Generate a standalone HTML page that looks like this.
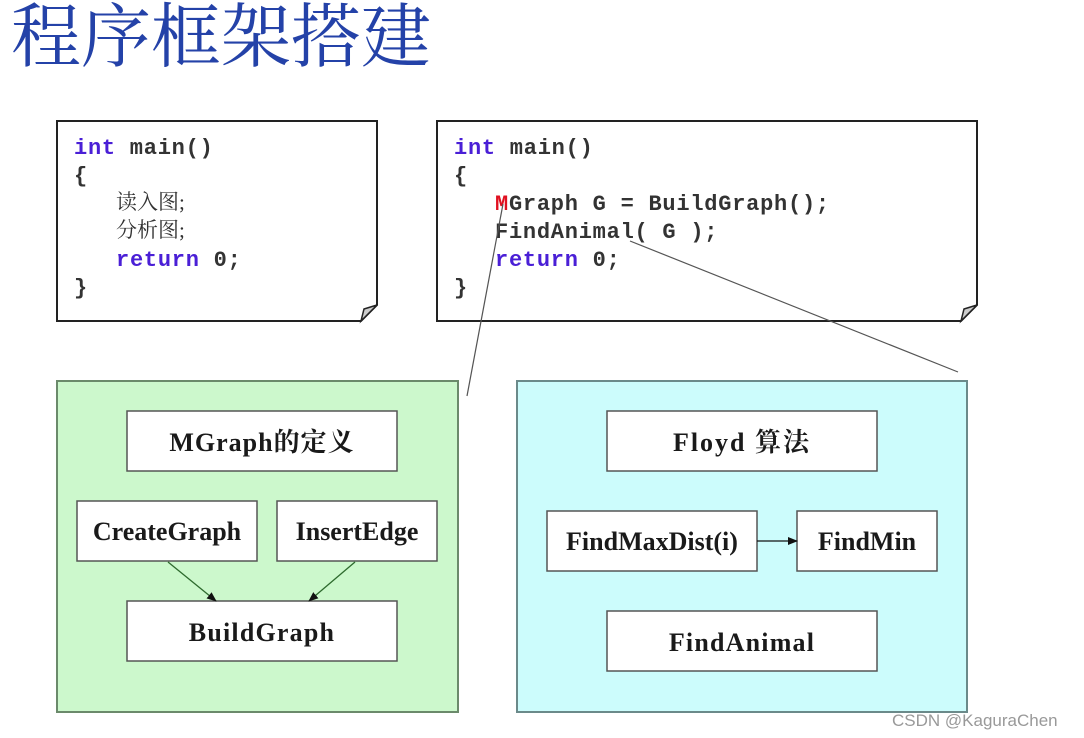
<!DOCTYPE html>
<html><head><meta charset="utf-8"><style>
html,body{margin:0;padding:0;background:#fff;}
svg{display:block;}
.code{font-family:"Liberation Mono",monospace;font-weight:bold;font-size:22px;fill:#333;letter-spacing:0.75px;}
.kw{fill:#4a1fd6;}
.cn{font-family:"Liberation Serif","Noto Serif CJK SC",serif;font-weight:normal;font-size:21px;fill:#333;}
.lbl{font-family:"Liberation Serif","Noto Serif CJK SC",serif;font-weight:bold;font-size:26px;fill:#1a1a1a;}
</style></head><body>
<svg width="1084" height="738" viewBox="0 0 1084 738" xmlns="http://www.w3.org/2000/svg">
<defs>
<marker id="ag" markerWidth="10" markerHeight="10" refX="9" refY="5" orient="auto" markerUnits="userSpaceOnUse"><path d="M0,1 L10,5 L0,9 z" fill="#111"/></marker>
</defs>
<text x="11" y="61" font-family="'Noto Serif CJK SC',serif" font-size="70" fill="#2442a8">程序框架搭建</text>

<!-- left code box -->
<path d="M57,121 H377 V305 L361,321 H57 Z" fill="#fff" stroke="#222" stroke-width="2"/>
<path d="M377,305 L361,321 L364,309 Z" fill="#ccc" stroke="#222" stroke-width="1.5"/>
<text class="code" x="74" y="154"><tspan class="kw">int</tspan> main()</text>
<text class="code" x="74" y="182">{</text>
<text class="cn" x="116" y="209">读入图;</text>
<text class="cn" x="116" y="237">分析图;</text>
<text class="code" x="116" y="266"><tspan class="kw">return</tspan> 0;</text>
<text class="code" x="74" y="294">}</text>

<!-- right code box -->
<path d="M437,121 H977 V305 L961,321 H437 Z" fill="#fff" stroke="#222" stroke-width="2"/>
<path d="M977,305 L961,321 L964,309 Z" fill="#ccc" stroke="#222" stroke-width="1.5"/>
<text class="code" x="454" y="154"><tspan class="kw">int</tspan> main()</text>
<text class="code" x="454" y="182">{</text>
<text class="code" x="495" y="210"><tspan fill="#e01020">M</tspan>Graph G = BuildGraph();</text>
<text class="code" x="495" y="238">FindAnimal( G );</text>
<text class="code" x="495" y="266"><tspan class="kw">return</tspan> 0;</text>
<text class="code" x="454" y="294">}</text>

<!-- callout lines -->
<line x1="503" y1="204" x2="467" y2="396" stroke="#555" stroke-width="1.2"/>
<line x1="630" y1="241" x2="958" y2="372" stroke="#555" stroke-width="1.2"/>

<!-- green panel -->
<rect x="57" y="381" width="401" height="331" fill="#ccf8cc" stroke="#6b8a6b" stroke-width="2"/>
<rect x="127" y="411" width="270" height="60" fill="#fff" stroke="#555" stroke-width="1.5"/>
<text class="lbl" x="262" y="451" text-anchor="middle" font-size="27" letter-spacing="1">MGraph的定义</text>
<rect x="77" y="501" width="180" height="60" fill="#fff" stroke="#555" stroke-width="1.5"/>
<text class="lbl" x="167" y="540" text-anchor="middle" font-size="23.5">CreateGraph</text>
<rect x="277" y="501" width="160" height="60" fill="#fff" stroke="#555" stroke-width="1.5"/>
<text class="lbl" x="357" y="540" text-anchor="middle" font-size="23.5">InsertEdge</text>
<rect x="127" y="601" width="270" height="60" fill="#fff" stroke="#555" stroke-width="1.5"/>
<text class="lbl" x="262" y="641" text-anchor="middle" font-size="27" letter-spacing="1.2">BuildGraph</text>
<line x1="168" y1="562" x2="216" y2="601" stroke="#2d6a2d" stroke-width="1.3" marker-end="url(#ag)"/>
<line x1="355" y1="562" x2="309" y2="601" stroke="#2d6a2d" stroke-width="1.3" marker-end="url(#ag)"/>

<!-- cyan panel -->
<rect x="517" y="381" width="450" height="331" fill="#ccfcfc" stroke="#6b8a8a" stroke-width="2"/>
<rect x="607" y="411" width="270" height="60" fill="#fff" stroke="#555" stroke-width="1.5"/>
<text class="lbl" x="742" y="451" text-anchor="middle" font-size="27" letter-spacing="2">Floyd 算法</text>
<rect x="547" y="511" width="210" height="60" fill="#fff" stroke="#555" stroke-width="1.5"/>
<text class="lbl" x="652" y="550" text-anchor="middle" font-size="24.5">FindMaxDist(i)</text>
<rect x="797" y="511" width="140" height="60" fill="#fff" stroke="#555" stroke-width="1.5"/>
<text class="lbl" x="867" y="550" text-anchor="middle" font-size="24">FindMin</text>
<line x1="757" y1="541" x2="797" y2="541" stroke="#111" stroke-width="1.3" marker-end="url(#ag)"/>
<rect x="607" y="611" width="270" height="60" fill="#fff" stroke="#555" stroke-width="1.5"/>
<text class="lbl" x="742" y="651" text-anchor="middle" font-size="27" letter-spacing="1.2">FindAnimal</text>

<text x="892" y="726" font-family="'Liberation Sans',sans-serif" font-size="17" fill="#999">CSDN @KaguraChen</text>
</svg>
</body></html>
